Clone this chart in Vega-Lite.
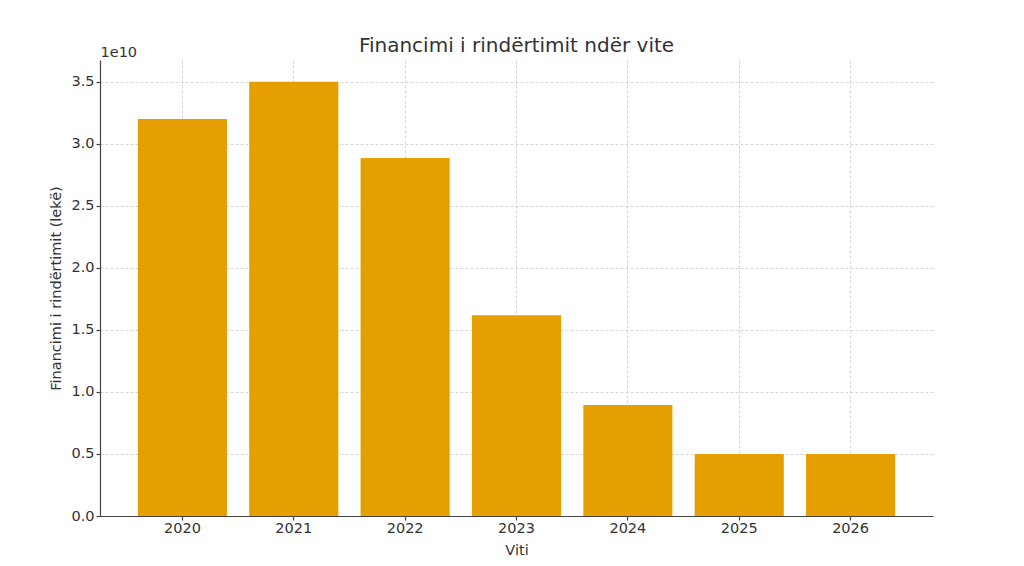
{
  "$schema": "https://vega.github.io/schema/vega-lite/v6.json",
  "autosize": {"type": "none"},
  "width": 833,
  "height": 456,
  "padding": {"left": 100, "top": 60, "right": 91, "bottom": 50},
  "background": "white",
  "title": {
    "text": "Financimi i rindërtimit ndër vite",
    "font": "DejaVu Sans",
    "fontSize": 20,
    "fontWeight": "normal",
    "color": "#333333",
    "anchor": "middle",
    "offset": -12
  },
  "data": {
    "values": [
      {"viti": "2020", "financimi": 32000000000},
      {"viti": "2021", "financimi": 35000000000},
      {"viti": "2022", "financimi": 28850000000},
      {"viti": "2023", "financimi": 16170000000},
      {"viti": "2024", "financimi": 8950000000},
      {"viti": "2025", "financimi": 5000000000},
      {"viti": "2026", "financimi": 5000000000}
    ]
  },
  "config": {
    "view": {"stroke": null},
    "axis": {
      "labelFont": "DejaVu Sans",
      "titleFont": "DejaVu Sans",
      "labelFontSize": 14.5,
      "titleFontSize": 14.5,
      "titleFontWeight": "normal",
      "labelColor": "#333333",
      "titleColor": "#333333",
      "domainColor": "#444444",
      "domainWidth": 1.2,
      "tickColor": "#444444",
      "tickWidth": 1.2,
      "tickSize": 4,
      "gridColor": "#cccccc",
      "gridDash": [3, 2],
      "gridWidth": 0.8
    }
  },
  "layer": [
    {
      "mark": {"type": "bar", "color": "#E69F00"},
      "encoding": {
        "x": {
          "field": "viti",
          "type": "ordinal",
          "scale": {"paddingInner": 0.2, "paddingOuter": 0.34},
          "axis": {
            "title": "Viti",
            "labelAngle": 0,
            "labelPadding": 1,
            "titlePadding": 9,
            "bandPosition": 0.5,
            "grid": true
          }
        },
        "y": {
          "field": "financimi",
          "type": "quantitative",
          "scale": {"domain": [0, 36750000000], "nice": false},
          "axis": {
            "title": "Financimi i rindërtimit (lekë)",
            "values": [0, 5000000000, 10000000000, 15000000000, 20000000000, 25000000000, 30000000000, 35000000000],
            "labelExpr": "format(datum.value / 1e10, '.1f')",
            "labelPadding": 2,
            "titlePadding": 7,
            "grid": true
          }
        }
      }
    },
    {
      "mark": {"type": "bar", "opacity": 0},
      "encoding": {
        "x": {
          "field": "viti",
          "type": "ordinal",
          "axis": {
            "orient": "top",
            "labels": false,
            "ticks": false,
            "domain": false,
            "grid": false,
            "title": "1e10",
            "titleAnchor": "start",
            "titleAlign": "left",
            "titleBaseline": "alphabetic",
            "titleX": 0,
            "titleY": -4
          }
        },
        "y": {"field": "financimi", "type": "quantitative"}
      }
    }
  ],
  "resolve": {"axis": {"x": "independent"}}
}
